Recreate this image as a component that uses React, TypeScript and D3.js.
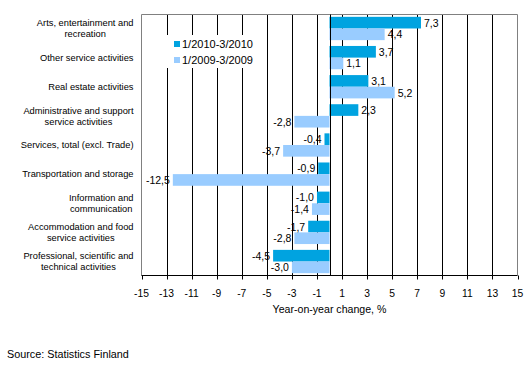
import React, { useEffect, useRef } from "react";
import * as d3 from "d3";

const categories: string[][] = [
  ["Arts, entertainment and", "recreation"],
  ["Other service activities"],
  ["Real estate activities"],
  ["Administrative and support", "service activities"],
  ["Services, total (excl. Trade)"],
  ["Transportation and storage"],
  ["Information and", "communication"],
  ["Accommodation and food", "service activities"],
  ["Professional, scientific and", "technical activities"],
];
const series2010: number[] = [7.3, 3.7, 3.1, 2.3, -0.4, -0.9, -1.0, -1.7, -4.5];
const series2009: number[] = [4.4, 1.1, 5.2, -2.8, -3.7, -12.5, -1.4, -2.8, -3.0];
const seriesNames = ["1/2010-3/2010", "1/2009-3/2009"];
const tickValues: number[] = [-15, -13, -11, -9, -7, -5, -3, -1, 1, 3, 5, 7, 9, 11, 13, 15];
const gridValues: number[] = [-13, -11, -9, -7, -5, -3, -1, 1, 3, 5, 7, 9, 11, 13];

const W = 532;
const H = 378;
const COLORS = ["#00A3E0", "#99CCFF"];
const FONT = "'Liberation Sans', Arial, sans-serif";

export default function App() {
  const ref = useRef<SVGSVGElement>(null);

  useEffect(() => {
    const svg = d3.select(ref.current);
    svg.selectAll("*").remove();

    const left = 141.5, right = 517.5, top = 14.5, bottom = 275.5;
    const x = d3.scaleLinear().domain([-15, 15]).range([left, right]);
    const ids = categories.map((_, i) => String(i));
    const y = d3.scaleBand().domain(ids).range([top, bottom]).paddingInner(0.2).paddingOuter(0.08);
    const bh = y.bandwidth() / 2;

    // gridlines
    svg.append("g").selectAll("line").data(gridValues).join("line")
      .attr("x1", d => Math.round(x(d)) + 0.5).attr("x2", d => Math.round(x(d)) + 0.5)
      .attr("y1", top).attr("y2", bottom).attr("stroke", "#000").attr("stroke-width", 1);

    // frame
    svg.append("path")
      .attr("d", `M${left},${bottom}V${top}H${right}V${bottom}`)
      .attr("fill", "none").attr("stroke", "#808080").attr("stroke-width", 1);

    // bars
    const rows = categories.map((_, i) => ({ i, a: series2010[i], b: series2009[i] }));
    const g = svg.append("g");
    [0, 1].forEach(s => {
      g.selectAll(`rect.s${s}`).data(rows).join("rect")
        .attr("class", `s${s}`)
        .attr("x", d => x(Math.min(0, s === 0 ? d.a : d.b)))
        .attr("width", d => Math.abs(x(s === 0 ? d.a : d.b) - x(0)))
        .attr("y", d => (y(String(d.i)) as number) + s * bh)
        .attr("height", bh)
        .attr("fill", COLORS[s]);
    });

    // zero line
    const x0 = Math.round(x(0)) + 0.5;
    svg.append("line").attr("x1", x0).attr("x2", x0).attr("y1", top).attr("y2", bottom)
      .attr("stroke", "#000");

    // value labels
    [0, 1].forEach(s => {
      svg.append("g").selectAll("text").data(rows).join("text")
        .attr("x", d => {
          const v = s === 0 ? d.a : d.b;
          return v >= 0 ? x(v) + 3 : x(v) - 3;
        })
        .attr("y", d => (y(String(d.i)) as number) + s * bh + bh / 2 + 4)
        .attr("text-anchor", d => ((s === 0 ? d.a : d.b) >= 0 ? "start" : "end"))
        .attr("font-family", FONT).attr("font-size", 10.5).attr("fill", "#000")
        .text(d => (s === 0 ? d.a : d.b).toFixed(1).replace(".", ","));
    });

    // x axis
    const ax = svg.append("g");
    ax.append("line").attr("x1", left).attr("x2", right).attr("y1", bottom).attr("y2", bottom)
      .attr("stroke", "#000");
    ax.selectAll("line.tk").data(tickValues).join("line").attr("class", "tk")
      .attr("x1", d => Math.round(x(d)) + 0.5).attr("x2", d => Math.round(x(d)) + 0.5)
      .attr("y1", bottom).attr("y2", bottom + 4).attr("stroke", "#000");
    ax.selectAll("text").data(tickValues).join("text")
      .attr("x", d => x(d)).attr("y", 297)
      .attr("text-anchor", "middle").attr("font-family", FONT).attr("font-size", 10.3)
      .text(d => String(d));

    svg.append("text").attr("x", (left + right) / 2).attr("y", 313)
      .attr("text-anchor", "middle").attr("font-family", FONT).attr("font-size", 10.6)
      .text("Year-on-year change, %");

    // category labels
    const labelRight = 133.5;
    categories.forEach((lines, i) => {
      const cy = (y(String(i)) as number) + y.bandwidth() / 2;
      const tg = svg.append("g");
      const texts = lines.map((ln, k) =>
        tg.append("text")
          .attr("font-family", FONT).attr("font-size", 9.3).attr("text-anchor", "middle")
          .attr("y", cy + (k - (lines.length - 1) / 2) * 11 + 3.3)
          .text(ln)
      );
      const widths = texts.map(t => (t.node() as SVGTextElement).getComputedTextLength());
      const mw = Math.max(...widths);
      texts.forEach(t => t.attr("x", labelRight - mw / 2));
    });

    // legend
    const lg = svg.append("g");
    lg.append("rect").attr("x", 152).attr("y", 35).attr("width", 110).attr("height", 33).attr("fill", "#fff");
    seriesNames.forEach((nm, k) => {
      lg.append("rect").attr("x", 174).attr("y", 41 + k * 16).attr("width", 6).attr("height", 6).attr("fill", COLORS[k]);
      lg.append("text").attr("x", 182).attr("y", 47.5 + k * 16)
        .attr("font-family", FONT).attr("font-size", 11).text(nm);
    });

    // source
    svg.append("text").attr("x", 7).attr("y", 358)
      .attr("font-family", FONT).attr("font-size", 10.8).text("Source: Statistics Finland");
  }, []);

  return (
    <svg ref={ref} width={W} height={H}
      style={{ position: "absolute", left: 0, top: 0, background: "#fff" }} />
  );
}
